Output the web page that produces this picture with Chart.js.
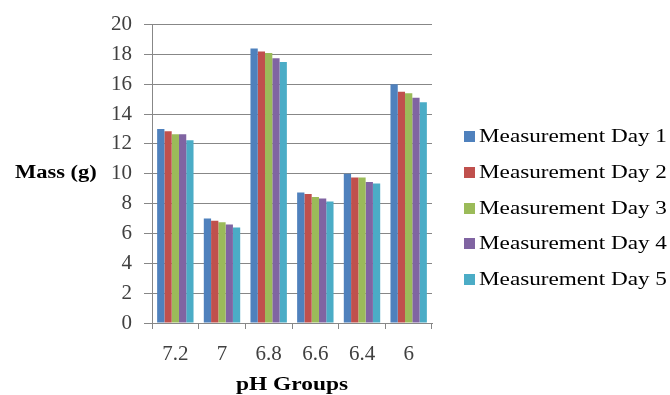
<!DOCTYPE html>
<html>
<head>
<meta charset="utf-8">
<script src="https://cdn.jsdelivr.net/npm/chart.js@4/dist/chart.umd.min.js"></script>
<style>
  html, body { margin: 0; padding: 0; background: #ffffff; }
  #wrap { width: 670px; height: 395px; }
</style>
</head>
<body>
<div id="wrap"><canvas id="c" width="670" height="395"></canvas></div>
<script>
// pH groups on the category axis
const categories = ['7.2', '7', '6.8', '6.6', '6.4', '6'];

// Mass (g) measured on each day
const day1 = [13.0, 7.0, 18.4, 8.75, 10.0, 16.0];
const day2 = [12.85, 6.85, 18.2, 8.65, 9.75, 15.5];
const day3 = [12.65, 6.75, 18.1, 8.45, 9.75, 15.4];
const day4 = [12.65, 6.6, 17.75, 8.35, 9.45, 15.1];
const day5 = [12.25, 6.4, 17.5, 8.15, 9.35, 14.8];

const seriesNames = ['Measurement Day 1', 'Measurement Day 2', 'Measurement Day 3', 'Measurement Day 4', 'Measurement Day 5'];
const seriesColors = ['#4F81BD', '#C0504D', '#9BBB59', '#8064A2', '#4BACC6'];

// value axis ticks
const yTicks = [0, 2, 4, 6, 8, 10, 12, 14, 16, 18, 20];

const yTitle = 'Mass (g)';
const xTitle = 'pH Groups';

const seriesData = [day1, day2, day3, day4, day5];
const datasets = seriesData.map((d, i) => ({
  label: seriesNames[i],
  data: d,
  backgroundColor: seriesColors[i],
  borderWidth: 0,
  categoryPercentage: 0.78,
  barPercentage: 1.0
}));

const SERIF = "'Liberation Serif', 'Times New Roman', serif";
const GRID = '#878787';

// draws horizontally widened text
function wideText(ctx, text, x, y, font, sx, align) {
  ctx.save();
  ctx.font = font;
  ctx.fillStyle = '#000000';
  ctx.textBaseline = 'middle';
  ctx.textAlign = 'left';
  const w = ctx.measureText(text).width * sx;
  let x0 = x;
  if (align === 'center') x0 = x - w / 2;
  ctx.translate(x0, y);
  ctx.scale(sx, 1);
  ctx.fillText(text, 0, 0);
  ctx.restore();
}

// axis titles and the side legend
const decorations = {
  id: 'decorations',
  afterDraw(chart) {
    const ctx = chart.ctx;
    const area = chart.chartArea;
    wideText(ctx, yTitle, 15, 173, 'bold 18px ' + SERIF, 1.25, 'left');
    wideText(ctx, xTitle, (area.left + area.right) / 2, 385, 'bold 18px ' + SERIF, 1.3, 'center');

    chart.data.datasets.forEach((ds, i) => {
      const cy = Math.round(137 + i * 35.8);
      ctx.save();
      ctx.fillStyle = ds.backgroundColor;
      ctx.fillRect(464, cy - 6, 11, 11);
      ctx.restore();
      wideText(ctx, ds.label, 479, cy, '19px ' + SERIF, 1.22, 'left');
    });
  }
};

new Chart(document.getElementById('c'), {
  type: 'bar',
  data: { labels: categories, datasets: datasets },
  options: {
    responsive: false,
    animation: false,
    devicePixelRatio: 1,
    layout: { padding: { left: 0, right: 238, top: 22, bottom: 0 } },
    plugins: {
      legend: { display: false },
      tooltip: { enabled: false }
    },
    scales: {
      x: {
        afterFit(s) { s.height = 72; },
        grid: { display: true, drawOnChartArea: false, drawTicks: true, tickLength: 6, color: GRID, offset: true },
        border: { display: true, color: GRID, width: 1 },
        ticks: { color: '#404040', font: { family: SERIF, size: 21 }, padding: 13, maxRotation: 0, autoSkip: false }
      },
      y: {
        min: 0,
        max: 20,
        afterFit(s) { s.width = 152; },
        afterBuildTicks(s) { s.ticks = yTicks.map(v => ({ value: v })); },
        grid: { color: GRID, tickLength: 8, drawTicks: true },
        border: { display: true, color: GRID, width: 1 },
        ticks: { color: '#404040', font: { family: SERIF, size: 21 }, padding: 12 }
      }
    }
  },
  plugins: [decorations]
});
</script>
</body>
</html>
